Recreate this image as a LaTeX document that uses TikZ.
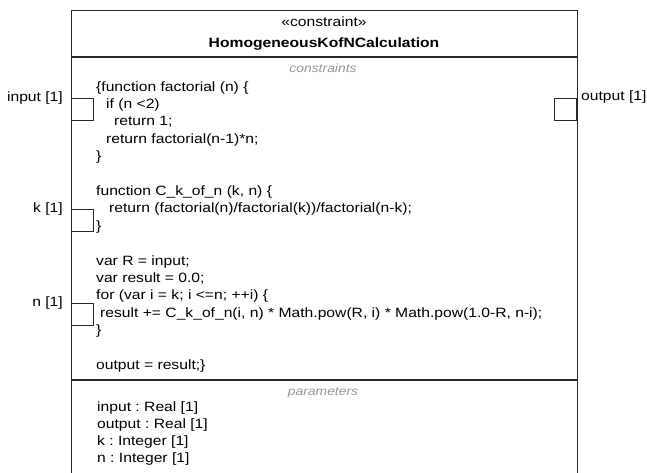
\documentclass[tikz,border=0pt]{standalone}
\usepackage{fontspec}
\setmainfont[FakeStretch=1.16]{Liberation Sans}
\usetikzlibrary{positioning}
\frenchspacing
\definecolor{blockline}{RGB}{40,40,40}
\definecolor{compgray}{RGB}{150,150,150}
\tikzset{
  block frame/.style={
    rectangle, draw=blockline, line width=1.1pt,
    inner sep=0pt, anchor=north west
  },
  port box/.style={
    rectangle, draw=blockline, line width=1.1pt, fill=white,
    minimum width=22pt, minimum height=22pt, inner sep=0pt
  },
  port label/.style={inner sep=0pt, font=\fontsize{13.5}{16}\selectfont},
  code text/.style={
    inner sep=0pt, align=left, anchor=base west,
    font=\fontsize{13.5}{17.4}\selectfont
  },
  param text/.style={
    inner sep=0pt, align=left, anchor=base west,
    font=\fontsize{13.5}{17}\selectfont
  },
  compartment title/.style={
    inner sep=0pt, anchor=base, text=compgray,
    font=\fontsize{12}{14}\selectfont\itshape
  },
  separator/.style={blockline, line width=1.1pt}
}
\begin{document}
\begin{tikzpicture}[x=1pt, y=-1pt]
    \useasboundingbox (0,0) rectangle (647,473);
    \clip (0,0) rectangle (647,473);
    % constraint block, cut off at the bottom
    \node[block frame, minimum width=506pt, minimum height=480pt] (block) at (71,10) {};
    \node[inner sep=0pt, anchor=base, font=\fontsize{13.5}{16}\selectfont] (stereo) at (324,27) {«constraint»};
    \node[inner sep=0pt, anchor=base, font=\fontsize{13.5}{16}\selectfont\bfseries] (blockname) at (324,48) {HomogeneousKofNCalculation};
    \draw[separator] (71,57) -- (577,57);
    \node[compartment title] (constrtitle) at (323,73) {constraints};
    % base anchor sits on the last line
    \node[code text] (code) at (96,369.4) {\{function factorial (n) \{\\
      \hspace*{10pt}if (n <2)\\
      \hspace*{18pt}return 1;\\
      \hspace*{10pt}return factorial(n-1)*n;\\
      \}\\
      \mbox{}\\
      function C\_k\_of\_n (k, n) \{\\
      \hspace*{13pt}return (factorial(n)/factorial(k))/factorial(n-k);\\
      \}\\
      \mbox{}\\
      var R = input;\\
      var result = 0.0;\\
      for (var i = k; i <=n; ++i) \{\\
      \hspace*{4pt}result += C\_k\_of\_n(i, n) * Math.pow(R, i) * Math.pow(1.0-R, n-i);\\
      \}\\
      \mbox{}\\
      output = result;\}};
    \draw[separator] (71,380) -- (577,380);
    \node[compartment title] (paramtitle) at (323,395) {parameters};
    \node[param text] (params) at (97,462) {input : Real [1]\\
      output : Real [1]\\
      k : Integer [1]\\
      n : Integer [1]};
    % ports
    \node[port box, anchor=north west] (inport) at (71,98) {};
    \node[port box, anchor=north east] (outport) at (577,98) {};
    \node[port box, anchor=north west] (kport) at (71,209) {};
    \node[port box, anchor=north west] (nport) at (71,303) {};
    \node[port label, anchor=base east] (inlabel) at ([xshift=-8pt, yshift=-3.5pt]inport.north west) {input [1]};
    \node[port label, anchor=base west] (outlabel) at ([xshift=4pt, yshift=-2.5pt]outport.north east) {output [1]};
    \node[port label, anchor=base east] (klabel) at ([xshift=-8pt, yshift=-3.5pt]kport.north west) {k [1]};
    \node[port label, anchor=base east] (nlabel) at ([xshift=-8pt, yshift=-3.5pt]nport.north west) {n [1]};
\end{tikzpicture}
\end{document}
